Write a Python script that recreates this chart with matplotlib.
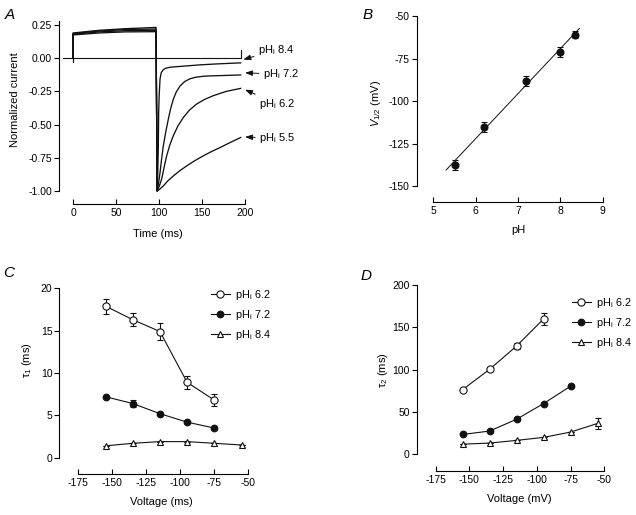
import numpy as np
import matplotlib
matplotlib.use("Agg")
import matplotlib.pyplot as plt
from matplotlib.lines import Line2D

plt.rcParams["font.family"] = ["Liberation Sans", "DejaVu Sans"]
plt.rcParams["mathtext.fontset"] = "custom"
plt.rcParams["mathtext.rm"] = "Liberation Sans"
plt.rcParams["mathtext.it"] = "Liberation Sans:italic"
plt.rcParams["mathtext.default"] = "regular"
plt.rcParams["axes.unicode_minus"] = False

# ---- panel A: normalized current traces ----
trace_labels = ["8.4", "7.2", "6.2", "5.5"]
pos_t = [0, 30, 60, 96.5]
pos_i = {
    "8.4": [0.175, 0.190, 0.198, 0.200],
    "7.2": [0.180, 0.198, 0.207, 0.210],
    "6.2": [0.185, 0.205, 0.215, 0.220],
    "5.5": [0.190, 0.210, 0.222, 0.232],
}
tail_t = {
    "8.4": [97.9, 98.6, 99.2, 99.6, 100.2, 101.2, 102.5, 105, 108, 112.8, 120, 128.3,
            147.7, 167, 195],
    "7.2": [97.9, 99.5, 101.2, 103, 105, 108, 110.8, 113.5, 116.6, 120, 124.4, 130, 136,
            143, 151.5, 160, 170.9, 195],
    "6.2": [97.9, 100.5, 103.1, 106, 108.9, 112.5, 116.6, 122, 128.3, 135.5, 143.8, 153,
            163.2, 178, 195],
    "5.5": [97.9, 101, 105, 110, 116.6, 124, 132.2, 141.5, 151.5, 161, 170.9, 182, 195],
}
tail_i = {
    "8.4": [-1.0, -0.85, -0.66, -0.41, -0.28, -0.156, -0.11, -0.086, -0.075, -0.068,
            -0.064, -0.060, -0.050, -0.043, -0.035],
    "7.2": [-1.0, -0.94, -0.86, -0.76, -0.66, -0.55, -0.46, -0.38, -0.31, -0.255, -0.21,
            -0.175, -0.155, -0.143, -0.136, -0.133, -0.131, -0.126],
    "6.2": [-1.0, -0.96, -0.91, -0.82, -0.735, -0.655, -0.584, -0.51, -0.446, -0.39,
            -0.345, -0.31, -0.282, -0.25, -0.227],
    "5.5": [-1.0, -0.985, -0.962, -0.925, -0.887, -0.848, -0.811, -0.772, -0.735, -0.703,
            -0.673, -0.637, -0.597],
}
base_t = [-12, 0, 0, 0, 195, 195]
base_i = [0, 0, -0.03, 0, 0, 0.06]

# ---- panel B: V1/2 vs pH ----
ph = [5.5, 6.2, 7.2, 8.0, 8.35]
v_half = [-137.5, -115.5, -88, -71, -61]
v_err = [3, 3, 3, 3, 2]
fit_ph = [5.3, 8.45]
fit_v = [-140.6, -57.3]

# ---- panels C and D: time constants ----
volt = [-155, -135, -115, -95, -75, -55]
tau1 = {
    "6.2": [17.9, 16.3, 14.9, 8.9, 6.8],
    "7.2": [7.2, 6.4, 5.2, 4.2, 3.5],
    "8.4": [1.4, 1.7, 1.9, 1.9, 1.7, 1.5],
}
tau1_err = {
    "6.2": [0.9, 0.8, 1.0, 0.8, 0.7],
    "7.2": [0, 0.4, 0, 0, 0],
    "8.4": [0, 0, 0, 0, 0, 0],
}
tau2 = {
    "6.2": [76.5, 100.5, 128, 160],
    "7.2": [23.5, 27.5, 41.5, 60, 80.5],
    "8.4": [12, 13.3, 16.5, 20, 26.3, 36.5],
}
tau2_err = {
    "6.2": [0, 0, 4, 7],
    "7.2": [0, 0, 0, 0, 0],
    "8.4": [0, 0, 0, 0, 0, 6],
}

W, H = 636, 515
fig = plt.figure(figsize=(W / 100, H / 100), dpi=100)


def fpos(x, y):
    return x / W, 1 - y / H


def make_axes(left, top, right, bottom):
    ax = fig.add_axes([left / W, 1 - bottom / H, (right - left) / W, (bottom - top) / H])
    ax.patch.set_alpha(0)
    for s in ["top", "right"]:
        ax.spines[s].set_visible(False)
    for s in ["left", "bottom"]:
        ax.spines[s].set_linewidth(0.8)
    ax.tick_params(axis="y", direction="out", length=3.5, width=0.8, pad=1.5, labelsize=7.5)
    ax.tick_params(axis="x", direction="in", length=3.5, width=0.8, pad=3, labelsize=7.5)
    return ax


lab_fs = 8
lw = 0.8
black = "#111111"

# A
axA = make_axes(59, 19.7, 245, 204.3)
axA.set_xlim(-16.3, 200)
axA.set_ylim(-1.1, 0.29)
axA.spines["left"].set_bounds(-1.0, 0.28)
axA.spines["bottom"].set_bounds(0, 200)
axA.set_xticks([0, 50, 100, 150, 200])
axA.set_yticks([-1.0, -0.75, -0.5, -0.25, 0.0, 0.25])
axA.set_yticklabels(["%.2f" % v for v in [-1.0, -0.75, -0.5, -0.25, 0.0, 0.25]])
axA.plot(base_t, base_i, color=black, lw=lw, clip_on=False)
for k in trace_labels:
    t = [0] + pos_t + tail_t[k]
    i = [0] + pos_i[k] + tail_i[k]
    axA.plot(t, i, color=black, lw=0.95, clip_on=False)
arrow_tips = {"8.4": (198, -0.01), "7.2": (200, -0.11), "6.2": (200, -0.237), "5.5": (200, -0.593)}
text_pos = {"8.4": (258, 50), "7.2": (263, 74.3), "6.2": (259.3, 104), "5.5": (259.3, 138.3)}
for k in trace_labels:
    axA.annotate(r"$\mathregular{pH_i}$ " + k, xy=arrow_tips[k], xycoords="data",
                 xytext=fpos(*text_pos[k]), textcoords="figure fraction",
                 ha="left", va="center", fontsize=8, annotation_clip=False,
                 arrowprops=dict(arrowstyle="-|>,head_length=0.55,head_width=0.2",
                                 color=black, lw=0.7, shrinkA=1, shrinkB=0))
axA.set_ylabel("Normalized current", fontsize=lab_fs)
axA.yaxis.set_label_coords(*fpos(20, 100), transform=fig.transFigure)
axA.set_xlabel("Time (ms)", fontsize=lab_fs)
axA.xaxis.set_label_coords(*fpos(158, 229), transform=fig.transFigure)

# B
axB = make_axes(416.7, 12.6, 602.7, 201.7)
axB.set_xlim(4.607, 9.0)
axB.set_ylim(-159.2, -48)
axB.spines["left"].set_bounds(-150, -50)
axB.spines["bottom"].set_bounds(5, 9)
axB.set_xticks([5, 6, 7, 8, 9])
axB.set_yticks([-150, -125, -100, -75, -50])
axB.plot(fit_ph, fit_v, color=black, lw=0.7)
axB.errorbar(ph, v_half, yerr=v_err, fmt="o", color=black, ms=4.8, elinewidth=0.8,
             capsize=2.5, capthick=0.8)
axB.set_ylabel(r"$\mathit{V}_{1/2}$ (mV)", fontsize=lab_fs)
axB.yaxis.set_label_coords(*fpos(383, 103), transform=fig.transFigure)
axB.set_xlabel("pH", fontsize=lab_fs)
axB.xaxis.set_label_coords(*fpos(518, 225), transform=fig.transFigure)

styles = {
    "6.2": dict(marker="o", mfc="white", ms=5.2),
    "7.2": dict(marker="o", mfc=black, ms=4.8),
    "8.4": dict(marker="^", mfc="white", ms=4.6),
}


def tau_panel(ax, vals, errs, legend_xy):
    handles = []
    for k in ["6.2", "7.2", "8.4"]:
        v = volt[:len(vals[k])]
        ax.errorbar(v, vals[k], yerr=errs[k], color=black, lw=0.8, mec=black, mew=0.8,
                    elinewidth=0.8, capsize=2.5, capthick=0.8, **styles[k])
        handles.append(Line2D([], [], color=black, lw=0.8, mec=black, mew=0.8,
                              label=r"$\mathregular{pH_i}$ " + k, **styles[k]))
    ax.legend(handles=handles, loc="upper left", bbox_to_anchor=fpos(*legend_xy),
              bbox_transform=fig.transFigure, frameon=False, fontsize=7.8,
              handlelength=1.75, handletextpad=0.45, labelspacing=0.55,
              borderpad=0, borderaxespad=0)


# C
axC = make_axes(59.3, 285.8, 248.3, 474.3)
axC.set_xlim(-189, -50)
axC.set_ylim(-1.96, 20.3)
axC.spines["left"].set_bounds(0, 20)
axC.spines["bottom"].set_bounds(-175, -50)
axC.set_xticks([-175, -150, -125, -100, -75, -50])
axC.set_yticks([0, 5, 10, 15, 20])
tau_panel(axC, tau1, tau1_err, (211, 288))
axC.set_ylabel(r"$\tau_1$ (ms)", fontsize=lab_fs)
axC.yaxis.set_label_coords(*fpos(34, 360), transform=fig.transFigure)
axC.set_xlabel("Voltage (ms)", fontsize=lab_fs)
axC.xaxis.set_label_coords(*fpos(161, 497), transform=fig.transFigure)

# D
axD = make_axes(416.7, 282.5, 604.3, 471)
axD.set_xlim(-189.1, -50)
axD.set_ylim(-19.7, 203)
axD.spines["left"].set_bounds(0, 200)
axD.spines["bottom"].set_bounds(-175, -50)
axD.set_xticks([-175, -150, -125, -100, -75, -50])
axD.set_yticks([0, 50, 100, 150, 200])
tau_panel(axD, tau2, tau2_err, (571.7, 295.7))
axD.set_ylabel(r"$\tau_2$ (ms)", fontsize=lab_fs)
axD.yaxis.set_label_coords(*fpos(390, 370), transform=fig.transFigure)
axD.set_xlabel("Voltage (mV)", fontsize=lab_fs)
axD.xaxis.set_label_coords(*fpos(519, 494), transform=fig.transFigure)

for letter, (x, y) in zip("ABCD", [(9.5, 15), (367.5, 15), (8.7, 273), (366, 276)]):
    fig.text(*fpos(x, y), letter, fontsize=11, style="italic", ha="center", va="center")

fig.savefig("out.png", dpi=100)
